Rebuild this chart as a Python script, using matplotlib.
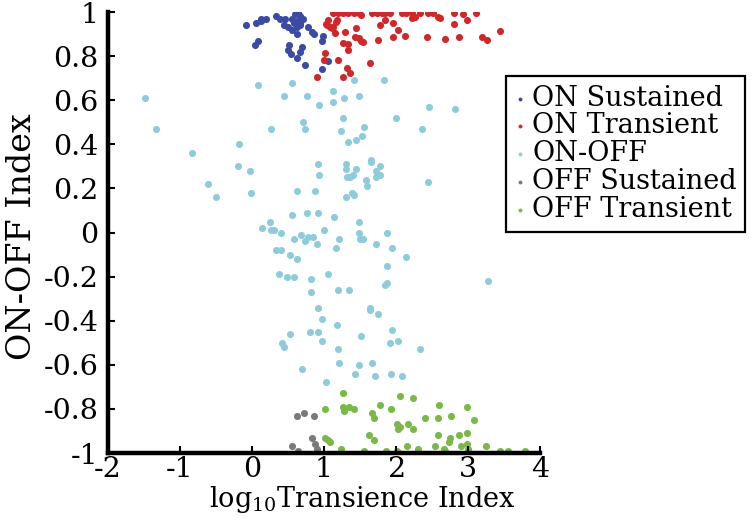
# -*- coding: utf-8 -*-
"""
ON-OFF index vs log10 transience index, scatter by cell class
"""
import matplotlib
matplotlib.use('Agg')
import matplotlib.pyplot as plt

# wide serif face, close to the stretched Times look of the original
plt.rcParams['font.family'] = ['DejaVu Serif']
plt.rcParams['mathtext.fontset'] = 'dejavuserif'

# ---- data ----
on_sus_x = [-0.08, 0.06, 0.12, 0.19, 0.13, 0.34, 0.39, 0.46, 0.55, 0.64, 0.67, 0.71, 0.62, 0.50,
            0.55, 0.62, 0.67, 0.62, 0.78, 0.83, 0.86, 0.99, 0.97, 0.09, 0.04, 0.52, 0.50, 0.54,
            0.62, 0.66, 0.69, 0.74, 1.06, 0.97, 0.60, 0.58, 0.66, 0.45]
on_sus_y = [0.94, 0.95, 0.97, 0.97, 0.96, 0.98, 0.97, 0.97, 0.97, 1.00, 0.98, 0.97, 0.96, 0.93,
            0.92, 0.93, 0.94, 0.90, 0.93, 0.91, 0.90, 0.89, 0.87, 0.87, 0.85, 0.85, 0.83, 0.81,
            0.79, 0.82, 0.84, 0.76, 0.78, 0.74, 0.99, 0.95, 0.95, 0.94]

on_tr_x = [1.13, 1.20, 1.27, 1.34, 1.41, 1.48, 1.66, 1.73, 1.80, 1.85, 1.92, 2.08, 2.14, 2.22,
           2.33, 2.45, 2.52, 2.80, 3.11,
           1.52, 2.26, 2.59, 2.93,
           1.18, 1.13, 1.45, 1.78, 1.85, 1.96, 2.03, 2.22, 2.61, 2.80, 2.98,
           1.15, 1.29, 1.43, 1.27, 1.34, 1.34, 1.48, 1.52, 1.75, 1.96, 2.13, 2.43, 2.68, 2.87,
           3.19, 3.26, 3.44,
           1.06, 1.04, 1.11, 1.01, 1.00, 0.90, 1.20, 1.26, 1.32, 1.36, 1.64, 1.54, 1.03, 1.09, 1.17]
on_tr_y = [0.995, 0.995, 0.995, 0.995, 0.995, 0.995, 0.995, 0.995, 0.995, 0.995, 0.995, 0.995,
           0.995, 0.995, 0.995, 0.995, 0.995, 0.995, 0.995,
           0.986, 0.979, 0.979, 0.990,
           0.964, 0.933, 0.929, 0.941, 0.964, 0.949, 0.918, 0.971, 0.971, 0.944, 0.964,
           0.903, 0.908, 0.888, 0.858, 0.853, 0.828, 0.881, 0.868, 0.873, 0.888, 0.893, 0.888,
           0.876, 0.885, 0.888, 0.873, 0.914,
           0.964, 0.941, 0.926, 0.813, 0.782, 0.707, 0.782, 0.707, 0.745, 0.722, 0.767, 0.865,
           0.946, 0.933, 0.956]

on_off_x = [-1.49, -1.34, -0.83, -0.18, 0.09, 0.26, 0.44, 0.55, 0.71, 0.73, 0.76, 0.93, 1.12, 1.12,
            1.24, 1.27, 1.28, 1.33,
            1.42, 1.48, 1.83, 2.46, 2.82, 2.00, 1.56, 2.36, 1.53, 1.44, 1.65,
            -0.20, -0.03, -0.61, -0.50, -0.02, 0.63, 0.88, 0.91, 0.93, 1.30, 1.30, 1.32, 1.30,
            0.56, 0.76, 0.92, 1.14, 0.25, 0.14, 0.26, 0.31, 0.40, 1.00, 0.58, 0.68, 0.73, 0.78,
            0.85, 0.90, 1.21, 1.17, 0.34, 0.40, 0.53, 0.62, 0.38, 0.48, 0.59, 0.82, 1.06, 0.82,
            1.19, 1.35, 0.91,
            1.36, 1.45, 1.40, 1.65, 1.78, 1.72, 1.78, 1.72, 1.58, 1.60, 1.39, 1.42, 2.45, 1.49,
            1.49, 1.50, 1.54, 1.72, 1.88, 1.94, 2.14, 1.88, 1.85, 1.88, 3.28, 1.64,
            0.97, 0.53, 0.42, 0.44, 0.81, 0.91, 0.97, 1.18, 1.19, 1.21, 0.70, 1.03,
            1.64, 1.75, 1.52, 1.95, 1.92, 2.03, 2.33, 1.48, 1.67, 1.43, 1.71, 1.93, 2.08]
on_off_y = [0.61, 0.47, 0.36, 0.40, 0.67, 0.47, 0.62, 0.68, 0.50, 0.47, 0.62, 0.58, 0.64, 0.59,
            0.46, 0.52, 0.61, 0.41,
            0.69, 0.62, 0.69, 0.57, 0.56, 0.52, 0.48, 0.47, 0.44, 0.42, 0.33,
            0.30, 0.28, 0.22, 0.16, 0.18, 0.19, 0.19, 0.31, 0.26, 0.31, 0.29, 0.25, 0.16,
            0.08, 0.09, 0.09, 0.07, 0.05, 0.02, 0.01, 0.01, 0.00, 0.01, -0.03, -0.01, -0.04, -0.02,
            -0.02, -0.05, -0.03, -0.07, -0.08, -0.08, -0.10, -0.12, -0.19, -0.20, -0.20, -0.21,
            -0.19, -0.27, -0.26, -0.26, -0.34,
            0.25, 0.29, 0.26, 0.32, 0.30, 0.28, 0.26, 0.25, 0.24, 0.21, 0.18, 0.17, 0.23, 0.05,
            0.00, -0.03, -0.03, -0.05, 0.00, -0.07, -0.11, -0.15, -0.24, -0.23, -0.22, -0.34,
            -0.39, -0.46, -0.50, -0.52, -0.45, -0.45, -0.49, -0.42, -0.53, -0.59, -0.62, -0.68,
            -0.35, -0.37, -0.47, -0.44, -0.50, -0.49, -0.53, -0.60, -0.59, -0.64, -0.65, -0.64, -0.65]

off_sus_x = [0.62, 0.72, 0.86, 0.83, 0.875, 0.90, 0.55, 0.64]
off_sus_y = [-0.83, -0.82, -0.83, -0.93, -0.96, -0.98, -0.97, -0.99]

off_tr_x = [1.27, 1.01, 1.26, 1.28, 1.35, 1.42, 1.78, 1.93, 1.67, 1.70, 2.06, 2.01, 2.03, 2.06,
            2.17, 1.01, 1.06, 1.09, 1.62, 1.69, 1.24, 1.55, 1.86, 2.01, 2.15,
            2.23, 2.60, 2.99, 2.76, 3.09, 2.40, 2.59, 2.24, 2.59, 2.75, 2.74, 2.88, 2.99, 2.31,
            2.54, 2.66, 2.68, 2.90, 2.98, 3.00, 3.25, 3.44, 3.55, 3.79]
off_tr_y = [-0.73, -0.80, -0.79, -0.81, -0.79, -0.80, -0.78, -0.80, -0.82, -0.84, -0.74, -0.87,
            -0.89, -0.88, -0.87, -0.93, -0.94, -0.95, -0.92, -0.94, -0.98, -0.99, -0.99, -0.99,
            -0.97,
            -0.75, -0.78, -0.79, -0.83, -0.85, -0.84, -0.84, -0.89, -0.92, -0.93, -0.95, -0.92,
            -0.91, -0.98, -0.97, -0.98, -0.99, -0.97, -0.96, -0.98, -0.97, -0.99, -0.99, -0.99]

classes = ['ON Sustained', 'ON Transient', 'ON-OFF', 'OFF Sustained', 'OFF Transient']
colors = ['#3b4ba3', '#d0282a', '#8ecbdb', '#7a7a7a', '#7ab848']

x_ticks = [-2, -1, 0, 1, 2, 3, 4]
y_ticks = [-1, -0.8, -0.6, -0.4, -0.2, 0, 0.2, 0.4, 0.6, 0.8, 1]
y_ticklabels = ['-1', '-0.8', '-0.6', '-0.4', '-0.2', '0', '0.2', '0.4', '0.6', '0.8', '1']

# ---- plot ----
fig = plt.figure(figsize=(7.52, 5.2), dpi=100)
ax = fig.add_axes([0.1436, 0.1288, 0.5745, 0.848])

series = [(on_sus_x, on_sus_y), (on_tr_x, on_tr_y), (on_off_x, on_off_y),
          (off_sus_x, off_sus_y), (off_tr_x, off_tr_y)]
for (xs, ys), name, c in zip(series, classes, colors):
    ax.scatter(xs, ys, s=26, color=c, linewidths=0, label=name)

ax.set_xlim(-2, 4)
ax.set_ylim(-1, 1)
ax.set_xticks(x_ticks)
ax.set_xticklabels([str(t) for t in x_ticks])
ax.set_yticks(y_ticks)
ax.set_yticklabels(y_ticklabels)

for side in ['top', 'right']:
    ax.spines[side].set_visible(False)
for side in ['left', 'bottom']:
    ax.spines[side].set_linewidth(3.2)
ax.tick_params(direction='in', length=5, width=1.5, labelsize=20.5)
ax.tick_params(axis='x', pad=2)
ax.tick_params(axis='y', pad=7)

ax.set_xlabel('log$_{10}$Transience Index', fontsize=19.5)
ax.xaxis.set_label_coords(0.59, -0.071)
ax.set_ylabel('ON-OFF Index', fontsize=24)
ax.yaxis.set_label_coords(-0.163, 0.49)

leg = ax.legend(loc='upper left', bbox_to_anchor=(0.921, 0.855), borderaxespad=0,
                fontsize=19.5, scatterpoints=1, markerscale=0.55, handlelength=0.4,
                handletextpad=0.25, labelspacing=0.03, borderpad=0.32,
                fancybox=False, framealpha=1, edgecolor='black')
leg.get_frame().set_linewidth(1.6)

plt.savefig('out.png', dpi=100)
plt.close()
